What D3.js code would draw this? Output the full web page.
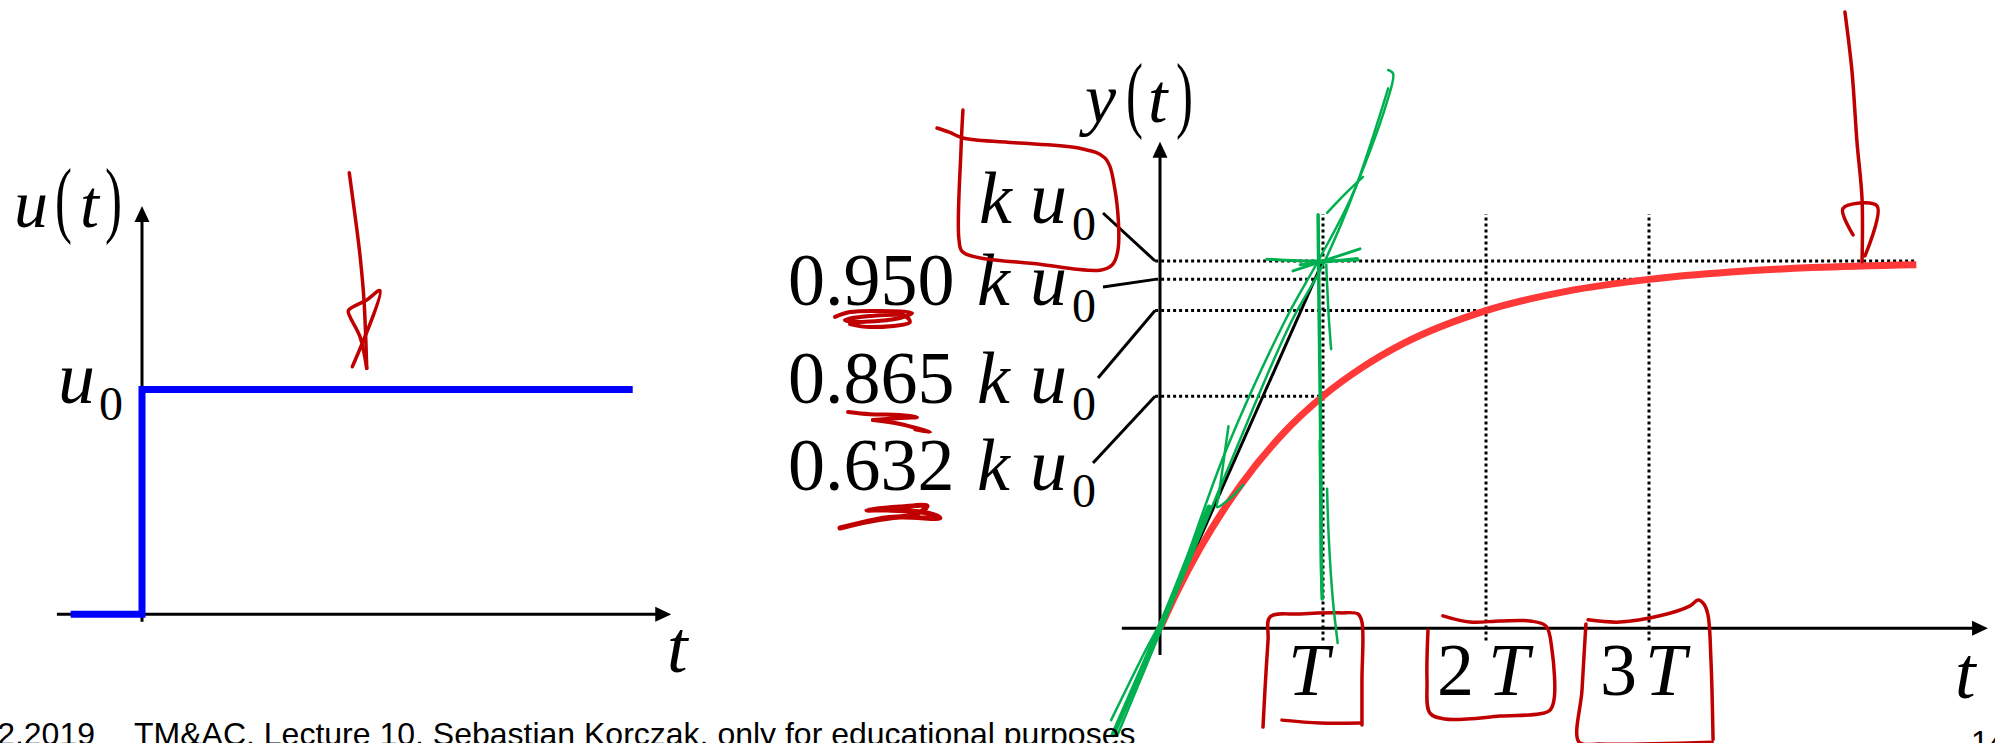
<!DOCTYPE html>
<html>
<head>
<meta charset="utf-8">
<script src="https://cdn.jsdelivr.net/npm/d3@7"></script>
<style>
  html, body { margin: 0; padding: 0; background: #fff; }
  svg { display: block; }
  .m { font-family: "Liberation Serif", "Times New Roman", serif; fill: #000; }
  .i { font-style: italic; }
  .foot { font-family: "Liberation Sans", Arial, sans-serif; fill: #000; }
</style>
</head>
<body>
<svg id="c" width="1995" height="743"></svg>
<script>
// ---------- input: unit step u(t) (time in units of T, amplitude in units of u0) ----------
const stepT = [-0.727, 0, 0, 5];
const stepU = [0, 0, 1, 1];

// ---------- output: first-order response y(t) (time in T, amplitude in k·u0) ----------
const respT = [0, 0.1, 0.25, 0.5, 0.75, 1, 1.25, 1.5, 2, 2.5, 3, 3.5, 4, 4.64];
const respY = [0, 0.095, 0.221, 0.393, 0.528, 0.632, 0.713, 0.777, 0.865, 0.918, 0.950, 0.970, 0.982, 0.990];

// tangent at the origin, reaching k·u0 after one time constant
const tangentT = [0, 1];
const tangentY = [0, 1];

// reference levels, their labels and where each guide stops
const levelValues = [1, 0.950, 0.865, 0.632];
const levelNames  = ["", "0.950", "0.865", "0.632"];
const levelEnds   = [4.64, 3, 2, 1];

// time marks on the t axis
const tickMultiples = [1, 2, 3];
const tickNames     = ["", "2", "3"];

// ---------- pen annotations (same units as the chart they sit on) ----------
// red arrow over the step
const penStepShaft = [[2.112,1.964],[2.170,1.776],[2.221,1.598],[2.262,1.398],[2.290,1.094]];
const penStepHead  = [[2.143,1.101],[2.425,1.440],[2.290,1.398],[2.102,1.351],[2.119,1.324],[2.221,1.235],[2.290,1.094]];
// red arrow at the steady state
const penSteadyShaft = [[4.202,1.678],[4.245,1.518],[4.276,1.324],[4.307,1.169],[4.307,0.998]];
const penSteadyHead  = [[4.252,1.071],[4.190,1.143],[4.399,1.150],[4.325,1.014]];
// red frames
const penFrameK  = [[-1.368,1.362],[-1.290,1.350],[-1.209,1.335],[-0.859,1.321],[-0.491,1.307],[-0.337,1.280],[-0.276,1.193],
                    [-0.258,1.030],[-0.294,0.989],[-0.368,0.975],[-0.736,0.991],[-1.209,1.024],[-1.233,1.057],[-1.221,1.302],[-1.209,1.411]];
const penFrameT1 = [[0.632,-0.269],[0.644,-0.168],[0.663,-0.032],[0.675,0.031],[0.859,0.039],[1.104,0.042],[1.215,0.039],
                    [1.239,0.017],[1.239,-0.141],[1.239,-0.263]];
const penFrameT2 = [[0.748,-0.250],[0.982,-0.258],[1.227,-0.258]];
const penFrame2T = [[1.736,0.034],[1.902,0.017],[2.086,0.020],[2.270,0.020],[2.368,0.006],[2.405,-0.059],[2.417,-0.195],
                    [2.387,-0.225],[2.086,-0.239],[1.748,-0.247],[1.656,-0.231],[1.638,-0.141],[1.644,-0.005]];
const penFrame3Ta = [[2.626,0.023],[2.822,0.017],[3.067,0.034],[3.252,0.061],[3.301,0.077],[3.337,0.066],[3.362,0.036],
                     [3.380,-0.085],[3.393,-0.303]];
const penFrame3Tb = [[2.613,0.012],[2.589,-0.168],[2.571,-0.310],[2.699,-0.315],[3.387,-0.310]];
// red underlines below the digits
const penUnder950 = [[-1.994,0.848],[-1.902,0.861],[-1.718,0.864],[-1.521,0.858],[-1.595,0.845],[-1.840,0.834],[-1.933,0.839],
                     [-1.779,0.850],[-1.564,0.850],[-1.534,0.834],[-1.779,0.820],[-1.902,0.828]];
const penUnder865a = [[-1.914,0.589],[-1.779,0.583],[-1.595,0.581],[-1.491,0.575],[-1.564,0.573],[-1.761,0.567]];
const penUnder865b = [[-1.761,0.567],[-1.595,0.556],[-1.411,0.534],[-1.503,0.542]];
const penUnder632 = [[-1.963,0.273],[-1.798,0.290],[-1.595,0.303],[-1.350,0.300],[-1.429,0.314],[-1.675,0.322],[-1.798,0.322],
                     [-1.595,0.330],[-1.429,0.333],[-1.500,0.310],[-1.700,0.300],[-1.900,0.280]];
// green tangent construction
const penTanA = [[-0.288,-0.290],[-0.15,-0.15],[0,0.004],[0.184,0.205],[0.30,0.33]];
const penTanB = [[-0.30,-0.25],[-0.10,-0.07],[0.05,0.06],[0.41,0.49],[0.77,0.84],[0.97,1.0],[1.17,1.17],[1.39,1.43],[1.43,1.51],[1.40,1.52]];
const penTanC = [[-0.26,-0.29],[0.02,0.01],[0.45,0.47],[0.80,0.83],[1.0,0.99],[1.2,1.2],[1.40,1.47]];
const penTanD = [[0.42,0.55],[0.36,0.36],[0.35,0.33],[0.42,0.35],[0.51,0.39]];
const penTanE = [[1.025,1.131],[1.13,1.18],[1.245,1.229]];
const penVertA = [[0.97,1.126],[0.975,0.9],[0.985,0.55],[0.99,0.2],[0.995,0.08]];
const penVertB = [[0.98,0.51],[0.985,0.30],[0.99,0.12],[0.995,0.09]];
const penVertC = [[1.025,0.38],[1.035,0.25],[1.06,0.08],[1.09,-0.04]];
const penVertD = [[1.02,0.99],[1.035,0.85],[1.05,0.76]];
const penCrossA = [[0.656,1.005],[0.9,1.0],[1.215,1.003]];
const penCrossB = [[0.816,0.973],[1.0,1.0],[1.227,1.033]];
const penCrossC = [[0.86,0.99],[1.21,1.007]];

// ---------- colours ----------
const BLUE = "#0000ff", RED = "#ff3838", PEN_RED = "#c00000", PEN_GREEN = "#00b050";

const svg = d3.select("#c");

// ---------- scales ----------
const xL = d3.scaleLinear().domain([0, 5]).range([142, 632.7]);
const yL = d3.scaleLinear().domain([0, 1]).range([614.3, 389.5]);
const xR = d3.scaleLinear().domain([0, 1]).range([1160, 1323]);
const yR = d3.scaleLinear().domain([0, 1]).range([628.3, 261]);

// arrowhead marker
const defs = svg.append("defs");
defs.append("marker")
  .attr("id", "arrow")
  .attr("viewBox", "0 0 16 16")
  .attr("refX", 8).attr("refY", 8)
  .attr("markerWidth", 16).attr("markerHeight", 16)
  .attr("markerUnits", "userSpaceOnUse")
  .attr("orient", "auto")
  .append("path").attr("d", "M0,0.5 L16,8 L0,15.5 Z").attr("fill", "#000");

// axis with an arrow at the far end; the line stops 8px short so the tip stays sharp
function arrowAxis(g, x1, y1, x2, y2) {
  const dx = x2 - x1, dy = y2 - y1, len = Math.hypot(dx, dy);
  g.append("line")
    .attr("x1", x1).attr("y1", y1)
    .attr("x2", x2 - dx / len * 8).attr("y2", y2 - dy / len * 8)
    .attr("stroke", "#000").attr("stroke-width", 3)
    .attr("marker-end", "url(#arrow)");
}

function text(g, x, y, s, size, italic) {
  return g.append("text").attr("class", "m" + (italic ? " i" : ""))
    .attr("x", x).attr("y", y).attr("font-size", size).text(s);
}
// tall, narrow brackets as in equation layout
function paren(g, x, y, s) {
  g.append("text").attr("class", "m")
    .attr("transform", `translate(${x},${y}) scale(0.6,1)`)
    .attr("font-size", 85).text(s);
}

const pen = d3.line().curve(d3.curveCatmullRom.alpha(0.5));
function ink(g, pts, sx, sy, color, w) {
  g.append("path")
    .attr("d", pen(pts.map(p => [sx(p[0]), sy(p[1])])))
    .attr("fill", "none").attr("stroke", color).attr("stroke-width", w)
    .attr("stroke-linecap", "round").attr("stroke-linejoin", "round");
}

// =================== left chart: input step ===================
const gL = svg.append("g");
arrowAxis(gL, xL(-0.867), yL(0), xL(5.393), yL(0));      // t axis
arrowAxis(gL, xL(0), yL(-0.033), xL(0), yL(1.816));      // u axis

gL.append("path")
  .datum(stepT.map((t, i) => [t, stepU[i]]))
  .attr("d", d3.line().x(d => xL(d[0])).y(d => yL(d[1])))
  .attr("fill", "none").attr("stroke", BLUE).attr("stroke-width", 7)
  .attr("stroke-linejoin", "miter").attr("stroke-linecap", "butt");

// axis titles
text(gL, 14, 227, "u", 68, true);
paren(gL, 55, 227, "(");
text(gL, 80, 227, "t", 68, true);
paren(gL, 105, 227, ")");
text(gL, 58, 403, "u", 74, true);
text(gL, 99, 420, "0", 48, false);
text(gL, 667, 672, "t", 74, true);

// =================== right chart: step response ===================
const gR = svg.append("g");

// dotted guides
const dotted = g => g.attr("stroke", "#000").attr("stroke-width", 3).attr("stroke-dasharray", "3,3").attr("fill", "none");
levelValues.forEach((v, i) => {
  gR.append("line").call(dotted)
    .attr("x1", xR(-0.03)).attr("x2", xR(levelEnds[i]))
    .attr("y1", yR(v)).attr("y2", yR(v));
});
tickMultiples.forEach(m => {
  gR.append("line").call(dotted)
    .attr("x1", xR(m)).attr("x2", xR(m))
    .attr("y1", yR(-0.033)).attr("y2", yR(1.128));
});

arrowAxis(gR, xR(-0.234), yR(0), xR(5.08), yR(0));      // t axis
arrowAxis(gR, xR(0), yR(-0.073), xR(0), yR(1.325));     // y axis

// tangent at the origin
gR.append("line")
  .attr("x1", xR(tangentT[0])).attr("y1", yR(tangentY[0]))
  .attr("x2", xR(tangentT[1])).attr("y2", yR(tangentY[1]))
  .attr("stroke", "#000").attr("stroke-width", 3);

// response curve
gR.append("path")
  .datum(respT.map((t, i) => [t, respY[i]]))
  .attr("d", d3.line().x(d => xR(d[0])).y(d => yR(d[1])).curve(d3.curveMonotoneX))
  .attr("fill", "none").attr("stroke", RED).attr("stroke-width", 7);

// level labels with leader lines
const labelBase  = [223, 305, 403, 490];
const leaderRise = [10, 18, 25, 27];
const leaderFromX = [1103, 1103, 1098, 1093];
levelValues.forEach((v, i) => {
  const b = labelBase[i];
  if (levelNames[i]) text(gR, 788, b, levelNames[i], 74, false);
  text(gR, i === 0 ? 979 : 977, b, "k", 74, true);
  text(gR, 1030, b, "u", 74, true);
  text(gR, 1072, b + 17, "0", 48, false);
  gR.append("line")
    .attr("x1", leaderFromX[i]).attr("y1", b - leaderRise[i])
    .attr("x2", xR(-0.03)).attr("y2", yR(v))
    .attr("stroke", "#000").attr("stroke-width", 3);
});

// y(t) title
text(gR, 1085, 122, "y", 70, true);
paren(gR, 1126, 122, "(");
text(gR, 1148, 122, "t", 70, true);
paren(gR, 1176, 122, ")");

// time marks T, 2T, 3T
tickMultiples.forEach((m, i) => {
  if (tickNames[i]) {
    text(gR, xR(m) - 49, 695, tickNames[i], 74, false);
    text(gR, xR(m) + 2 - (i === 2 ? 6 : 0), 695, "T", 74, true);
  } else {
    text(gR, xR(m) - 35, 695, "T", 74, true);
  }
});
text(gR, 1955, 698, "t", 74, true);

// =================== pen annotations ===================
const gP = svg.append("g");
ink(gP, penStepShaft, xL, yL, PEN_RED, 3.5);
ink(gP, penStepHead, xL, yL, PEN_RED, 3.5);
ink(gP, penSteadyShaft, xR, yR, PEN_RED, 3.5);
ink(gP, penSteadyHead, xR, yR, PEN_RED, 3.5);
[penFrameK, penFrameT1, penFrameT2, penFrame2T, penFrame3Ta, penFrame3Tb].forEach(p => ink(gP, p, xR, yR, PEN_RED, 3.5));
ink(gP, penUnder950, xR, yR, PEN_RED, 4);
ink(gP, penUnder865a, xR, yR, PEN_RED, 4);
ink(gP, penUnder865b, xR, yR, PEN_RED, 4);
ink(gP, penUnder632, xR, yR, PEN_RED, 5);

ink(gP, penTanA, xR, yR, PEN_GREEN, 5);
[penTanB, penTanC].forEach(p => ink(gP, p, xR, yR, PEN_GREEN, 2.5));
[penTanD, penTanE].forEach(p => ink(gP, p, xR, yR, PEN_GREEN, 2.5));
ink(gP, penVertA, xR, yR, PEN_GREEN, 3.5);
[penVertB, penVertC, penVertD].forEach(p => ink(gP, p, xR, yR, PEN_GREEN, 2.5));
[penCrossA, penCrossB, penCrossC].forEach(p => ink(gP, p, xR, yR, PEN_GREEN, 3));

// =================== footer ===================
svg.append("text").attr("class", "foot").attr("x", 95).attr("y", 745)
  .attr("font-size", 32).attr("text-anchor", "end").text("2.2019");
svg.append("text").attr("class", "foot").attr("x", 134).attr("y", 745)
  .attr("font-size", 32).text("TM&AC, Lecture 10, Sebastian Korczak, only for educational purposes");
svg.append("text").attr("class", "foot").attr("x", 1971).attr("y", 753)
  .attr("font-size", 32).text("14");
</script>
</body>
</html>
